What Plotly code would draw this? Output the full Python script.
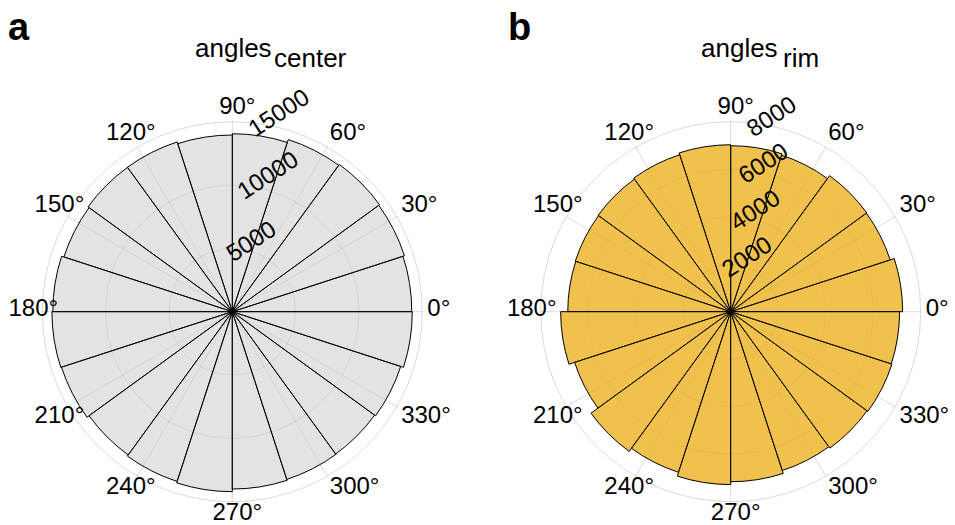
import math
import plotly.graph_objects as go

# 20 angular bins of 18 degrees, labelled by bin centre
bin_centers = [9 + 18 * i for i in range(20)]
bin_width = 18

# counts per bin
counts_center = [14170, 14290, 14370, 14290, 14050, 13950, 14090, 14080, 13980, 14170,
                 14240, 14180, 13980, 14090, 14210, 14000, 13920, 13890, 13980, 14210]
counts_rim = [7240, 7060, 7080, 6930, 6990, 7030, 6950, 6900, 6880, 6860,
              7160, 6910, 7270, 7110, 7280, 7160, 7030, 7100, 7140, 7110]

theta_ticks = list(range(0, 360, 30))
theta_labels = [f"{t}°" for t in theta_ticks]
r_ticks_center = [5000, 10000, 15000]
r_ticks_rim = [2000, 4000, 6000, 8000]

FONT = "Liberation Sans"
W, H = 955, 525
GRID = "rgba(0,0,0,0.15)"
CLEAR = "rgba(0,0,0,0)"
R = 190            # plot radius in px
CY = H - 311.7     # centre height from the bottom, px
LABEL_R = 210      # radius of the overlay that carries the angle labels
RLAB_SHIFT = (-29, -1)  # offset of the radius-label overlay, px (x right, y up)


def domain(cx, cy, rad):
    return dict(x=[(cx - rad) / W, (cx + rad) / W], y=[(cy - rad) / H, (cy + rad) / H])


def angle_label_points(anchor=195):
    """Place each angle label just outside the rim: labels on the right start at
    the anchor, the others are centred on it."""
    rs, ths, pos = [], [], []
    for t in theta_ticks:
        c, s = math.cos(math.radians(t)), math.sin(math.radians(t))
        x, y = anchor * c, anchor * s
        if c > 0.1:
            p = "middle right"
        else:
            p = "middle center"
            x += -4 if c < -0.1 else 5
        if s > 0.1:
            y += 8.4
        elif s < -0.1:
            y -= 7.6
        else:
            y += 1.4
        rs.append(math.hypot(x, y))
        ths.append(math.degrees(math.atan2(y, x)))
        pos.append(p)
    return rs, ths, pos


fig = go.Figure()


def add_panel(idx, cx, counts, rmax, rticks, fill):
    main, rlab, alab = f"polar{idx}", f"polar{idx + 1}", f"polar{idx + 2}"
    widths = [bin_width] * len(bin_centers)
    fig.add_trace(go.Barpolar(
        r=counts, theta=bin_centers, width=widths,
        marker=dict(color=fill, line=dict(color="black", width=1)),
        subplot=main, showlegend=False, hoverinfo="skip",
    ))
    # transparent copy so the radius-label overlay has the same scale
    fig.add_trace(go.Barpolar(
        r=counts, theta=bin_centers, width=widths,
        marker=dict(color=CLEAR, line=dict(color=CLEAR, width=0)),
        subplot=rlab, showlegend=False, hoverinfo="skip",
    ))
    rs, ths, pos = angle_label_points()
    fig.add_trace(go.Scatterpolar(
        r=rs, theta=ths, mode="text", text=theta_labels, textposition=pos,
        textfont=dict(family=FONT, size=24, color="black"),
        cliponaxis=False, subplot=alab, showlegend=False, hoverinfo="skip",
    ))

    fig.layout[main] = dict(
        domain=domain(cx, CY, R), bgcolor="white", bargap=0,
        angularaxis=dict(
            tickmode="array", tickvals=theta_ticks, showticklabels=False,
            direction="counterclockwise", rotation=0,
            showline=True, linecolor=GRID, linewidth=1,
            gridcolor=GRID, gridwidth=1, ticks="",
        ),
        radialaxis=dict(
            range=[0, rmax], tickmode="array", tickvals=rticks,
            showticklabels=False, showline=False, ticks="",
            gridcolor=GRID, gridwidth=1,
        ),
    )
    fig.layout[rlab] = dict(
        domain=domain(cx + RLAB_SHIFT[0], CY + RLAB_SHIFT[1], R), bgcolor=CLEAR, bargap=0,
        angularaxis=dict(visible=False),
        radialaxis=dict(
            range=[0, rmax], tickmode="array", tickvals=rticks,
            ticktext=[str(v) for v in rticks],
            angle=80, tickangle=47, side="clockwise",
            showline=False, showgrid=False, ticks="",
            tickfont=dict(family=FONT, size=24, color="black"),
        ),
    )
    fig.layout[alab] = dict(
        domain=domain(cx, CY, LABEL_R), bgcolor=CLEAR,
        angularaxis=dict(visible=False, direction="counterclockwise", rotation=0),
        radialaxis=dict(visible=False, range=[0, LABEL_R]),
    )


add_panel(1, 232.3, counts_center, 15000, r_ticks_center, "rgba(204,204,204,0.55)")
add_panel(4, 730.7, counts_rim, 8000, r_ticks_rim, "rgba(237,177,32,0.8)")

fig.update_layout(
    width=W, height=H,
    margin=dict(l=0, r=0, t=0, b=0),
    paper_bgcolor="white", plot_bgcolor="white",
)


def ann(text, x, y, size, bold=False):
    fig.add_annotation(
        text=f"<b>{text}</b>" if bold else text,
        xref="paper", yref="paper", x=x / W, y=1 - y / H,
        xanchor="left", yanchor="middle", showarrow=False,
        font=dict(family=FONT, size=size, color="black"),
    )


# panel letters
ann("a", 6, 27, 38, bold=True)
ann("b", 506, 27, 38, bold=True)
# panel titles: base text with a lowered subscript at the same size
ann("angles", 193, 47.5, 26)
ann("center", 272, 57.5, 26)
ann("angles", 699, 47.5, 26)
ann("rim", 781, 57.5, 26)

fig.write_html("out.html")
